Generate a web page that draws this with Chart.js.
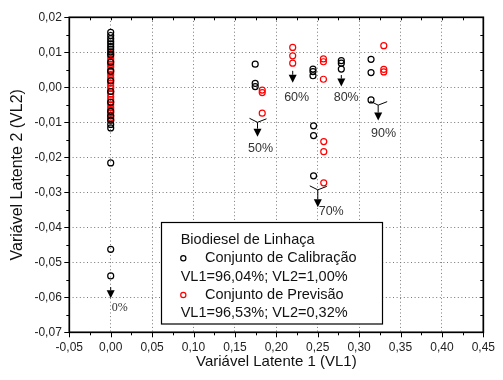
<!DOCTYPE html>
<html>
<head>
<meta charset="utf-8">
<script src="https://cdn.jsdelivr.net/npm/chart.js@4/dist/chart.umd.min.js"></script>
<style>
  html, body { margin: 0; padding: 0; background: #ffffff; }
  #wrap { width: 503px; height: 380px; }
</style>
</head>
<body>
<div id="wrap"><canvas id="c" width="503" height="380"></canvas></div>
<script>
// Calibration set scores (VL1, VL2)
const calibX = [0, 0, 0, 0, 0, 0, 0, 0, 0, 0, 0, 0, 0, 0, 0, 0, 0, 0, 0, 0, 0, 0,
                0.1745, 0.1745, 0.1745, 0.2443, 0.2443, 0.2443, 0.2785, 0.2785, 0.2785,
                0.3144, 0.3144, 0.3144, 0.2450, 0.2450, 0.2450];
const calibY = [0.0157, 0.0148, 0.0139, 0.0131, 0.0124, 0.0116, 0.0109, 0.0101, 0.0093, 0.0071,
                0.0046, 0.0018, -0.0012, -0.0043, -0.0069, -0.0082, -0.0094, -0.0106, -0.0116,
                -0.0216, -0.0463, -0.0539,
                0.0066, 0.0011, 0.0002, 0.0052, 0.0045, 0.0033, 0.0076, 0.0069, 0.0052,
                0.0080, 0.0042, -0.0036, -0.0110, -0.0138, -0.0253];

// Prediction set scores (VL1, VL2)
const prevX = [0, 0, 0, 0, 0, 0, 0, 0, 0, 0, 0, 0, 0, 0, 0, 0, 0, 0, 0, 0, 0, 0, 0, 0, 0, 0,
               0.1830, 0.1830, 0.1830, 0.2198, 0.2198, 0.2198, 0.2569, 0.2569, 0.2569,
               0.3298, 0.3298, 0.3298, 0.2573, 0.2573, 0.2573];
const prevY = [0.0096, 0.0089, 0.0081, 0.0074, 0.0065, 0.0059, 0.0050, 0.0044, 0.0036, 0.0027,
               0.0021, 0.0012, 0.0004, -0.0003, -0.0012, -0.0019, -0.0027, -0.0035, -0.0042,
               -0.0050, -0.0058, -0.0064, -0.0073, -0.0080, -0.0088, -0.0094,
               -0.0008, -0.0015, -0.0074, 0.0114, 0.0090, 0.0069, 0.0081, 0.0073, 0.0023,
               0.0119, 0.0051, 0.0044, -0.0155, -0.0184, -0.0273];

// Axis ticks
const xTicks = [-0.05, 0.00, 0.05, 0.10, 0.15, 0.20, 0.25, 0.30, 0.35, 0.40, 0.45];
const yTicks = [-0.07, -0.06, -0.05, -0.04, -0.03, -0.02, -0.01, 0.00, 0.01, 0.02];

// Arrow annotations (blend percentages), anchored in data units
const arrowLabels = ['0%', '50%', '60%', '70%', '80%', '90%'];
const arrowX     = [0.0000, 0.1773, 0.2198, 0.2501, 0.2785, 0.3230];
const arrowTopY  = [-0.0571, -0.0100, 0.0047, -0.0293, 0.0035, -0.0051];
const arrowTipY  = [-0.0603, -0.0141, 0.0013, -0.0343, 0.0002, -0.0095];
const arrowFork  = [false, true, false, true, false, true];
const labelX     = [0.0110, 0.1809, 0.2246, 0.2663, 0.2844, 0.3296];
const labelY     = [-0.0631, -0.0174, -0.0029, -0.0355, -0.0029, -0.0131];

// Legend text
const legendTitle = 'Biodiesel de Linhaça';
const seriesNames = ['Conjunto de Calibração', 'Conjunto de Previsão'];
const seriesStats = ['VL1=96,04%; VL2=1,00%', 'VL1=96,53%; VL2=0,32%'];

const BLACK = '#000000';
const RED = '#ff0000';
const SANS = 'Arial, "Liberation Sans", sans-serif';

const toPoints = (xs, ys) => xs.map((x, i) => ({ x: x, y: ys[i] }));
const fmt = v => (Math.abs(v) < 1e-9 ? 0 : v).toFixed(2).replace('.', ',');

const decor = {
  id: 'decor',
  afterDatasetsDraw(chart) {
    const ctx = chart.ctx;
    const xs = chart.scales.x, ys = chart.scales.y;
    ctx.save();

    // arrows with their percentage labels
    ctx.strokeStyle = '#000';
    ctx.fillStyle = '#000';
    ctx.lineWidth = 1;
    arrowLabels.forEach((lab, i) => {
      const px = xs.getPixelForValue(arrowX[i]);
      const top = ys.getPixelForValue(arrowTopY[i]);
      const tip = ys.getPixelForValue(arrowTipY[i]);
      const headH = 8, headW = 4;
      ctx.beginPath();
      ctx.moveTo(px, top);
      ctx.lineTo(px, tip - headH);
      if (arrowFork[i]) {
        ctx.moveTo(px, top);
        ctx.lineTo(px - 8, top - 4);
        ctx.moveTo(px, top);
        ctx.lineTo(px + 9, top - 3.5);
      }
      ctx.stroke();
      ctx.beginPath();
      ctx.moveTo(px - headW, tip - headH);
      ctx.lineTo(px + headW, tip - headH);
      ctx.lineTo(px, tip);
      ctx.closePath();
      ctx.fill();

      ctx.fillStyle = '#333';
      ctx.textAlign = 'center';
      ctx.textBaseline = 'middle';
      ctx.font = i === 0 ? '12px "Liberation Serif", "Times New Roman", serif' : '12.5px ' + SANS;
      ctx.fillText(lab, xs.getPixelForValue(labelX[i]), ys.getPixelForValue(labelY[i]));
      ctx.fillStyle = '#000';
    });

    // legend box
    const bx = 161.5, by = 222.5, bw = 221, bh = 101.5;
    ctx.fillStyle = '#fff';
    ctx.fillRect(bx, by, bw, bh);
    ctx.strokeStyle = '#000';
    ctx.lineWidth = 1.2;
    ctx.strokeRect(bx, by, bw, bh);

    ctx.font = '14.5px ' + SANS;
    ctx.textAlign = 'left';
    ctx.textBaseline = 'middle';
    ctx.fillStyle = '#111';
    const tx = 180.7;
    ctx.fillText(legendTitle, tx, 240);
    const rows = [258.3, 295];
    const colors = [BLACK, RED];
    rows.forEach((ry, k) => {
      ctx.beginPath();
      ctx.arc(183.3, ry, 2.6, 0, Math.PI * 2);
      ctx.strokeStyle = colors[k];
      ctx.lineWidth = 1.2;
      ctx.stroke();
      ctx.fillStyle = '#111';
      ctx.fillText(seriesNames[k], 205, ry);
      ctx.fillText(seriesStats[k], tx, ry + 18.4);
    });
    ctx.restore();
  },
  afterDraw(chart) {
    const ctx = chart.ctx;
    const a = chart.chartArea;
    const xs = chart.scales.x, ys = chart.scales.y;
    ctx.save();
    ctx.strokeStyle = '#000';
    ctx.lineWidth = 1;
    ctx.beginPath();
    // x ticks: major (outward 5px) and minor (outward 3px), small inward marks on top
    for (let k = 0; k <= 20; k++) {
      const v = -0.05 + k * 0.025;
      const px = Math.round(xs.getPixelForValue(v)) + 0.5;
      const major = k % 2 === 0;
      ctx.moveTo(px, a.bottom);
      ctx.lineTo(px, a.bottom + (major ? 5 : 3));
      ctx.moveTo(px, a.top);
      ctx.lineTo(px, a.top + 3);
    }
    // y ticks
    for (let k = 0; k <= 18; k++) {
      const v = -0.07 + k * 0.005;
      const py = Math.round(ys.getPixelForValue(v)) + 0.5;
      const major = k % 2 === 0;
      ctx.moveTo(a.left, py);
      ctx.lineTo(a.left - (major ? 5 : 3), py);
      ctx.moveTo(a.right, py);
      ctx.lineTo(a.right - 3, py);
    }
    ctx.stroke();
    // frame
    ctx.lineWidth = 1.7;
    ctx.strokeRect(a.left, a.top, a.right - a.left, a.bottom - a.top);
    ctx.restore();
  }
};

new Chart(document.getElementById('c'), {
  type: 'scatter',
  data: {
    datasets: [
      {
        label: seriesNames[0],
        data: toPoints(calibX, calibY),
        borderColor: BLACK,
        backgroundColor: 'rgba(0,0,0,0)',
        pointRadius: 3,
        borderWidth: 1.2,
        pointHoverRadius: 3
      },
      {
        label: seriesNames[1],
        data: toPoints(prevX, prevY),
        borderColor: RED,
        backgroundColor: 'rgba(0,0,0,0)',
        pointRadius: 3,
        borderWidth: 1.2,
        pointHoverRadius: 3
      }
    ]
  },
  options: {
    responsive: false,
    animation: false,
    events: [],
    layout: { padding: { left: 0, right: 10.7, top: 17.3, bottom: 0 } },
    plugins: { legend: { display: false }, tooltip: { enabled: false } },
    scales: {
      x: {
        type: 'linear',
        min: -0.05,
        max: 0.45,
        afterBuildTicks: s => { s.ticks = xTicks.map(v => ({ value: v })); },
        afterFit: s => { s.height = 47.7; },
        ticks: {
          callback: v => fmt(v),
          font: { family: SANS, size: 12 },
          color: '#222',
          padding: 8,
          maxRotation: 0,
          autoSkip: false
        },
        grid: {
          drawTicks: false,
          color: '#777',
          lineWidth: 1
        },
        border: { display: false, dash: [1, 2.6] },
        title: {
          display: true,
          text: 'Variável Latente 1 (VL1)',
          font: { family: SANS, size: 15 },
          color: '#111',
          padding: { top: 0, bottom: 9.5 }
        }
      },
      y: {
        type: 'linear',
        min: -0.07,
        max: 0.02,
        afterBuildTicks: s => { s.ticks = yTicks.map(v => ({ value: v })); },
        afterFit: s => { s.width = 69.3; },
        ticks: {
          callback: v => fmt(v),
          font: { family: SANS, size: 12 },
          color: '#222',
          padding: 7.5
        },
        grid: {
          drawTicks: false,
          color: '#777',
          lineWidth: 1
        },
        border: { display: false, dash: [1, 2.6] },
        title: {
          display: true,
          text: 'Variável Latente 2 (VL2)',
          font: { family: SANS, size: 16 },
          color: '#111',
          padding: { top: 8, bottom: 0 }
        }
      }
    }
  },
  plugins: [decor]
});
</script>
</body>
</html>
